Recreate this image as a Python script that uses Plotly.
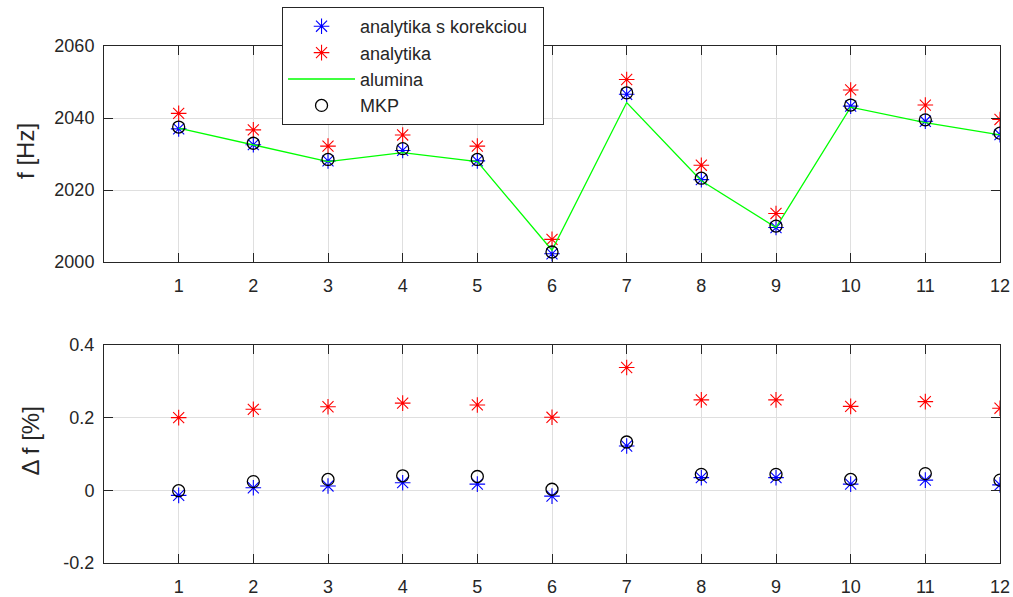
import plotly.graph_objects as go

# sample index
idx = list(range(1, 13))

# resonance frequency [Hz]
f_alumina = [2037.2, 2032.5, 2027.9, 2030.4, 2027.9, 2003.3, 2044.3, 2022.6, 2009.6, 2043.0, 2038.7, 2035.3]
f_analytika = [2041.3, 2036.7, 2032.2, 2035.3, 2032.2, 2006.3, 2050.7, 2026.9, 2013.5, 2047.8, 2043.6, 2039.6]
f_korekcia = [2037.0, 2032.6, 2028.1, 2031.0, 2028.1, 2002.3, 2046.6, 2022.9, 2009.6, 2043.3, 2039.1, 2035.4]
f_mkp = [2037.5, 2033.0, 2028.5, 2031.5, 2028.5, 2002.8, 2047.0, 2023.3, 2010.0, 2043.6, 2039.5, 2035.8]

# relative deviation [%]
d_analytika = [0.200, 0.223, 0.230, 0.240, 0.235, 0.201, 0.338, 0.249, 0.249, 0.231, 0.244, 0.226]
d_korekcia = [-0.014, 0.007, 0.012, 0.021, 0.017, -0.016, 0.122, 0.035, 0.035, 0.017, 0.028, 0.015]
d_mkp = [-0.001, 0.024, 0.030, 0.040, 0.038, 0.003, 0.133, 0.044, 0.044, 0.030, 0.046, 0.028]

top_ticks = [2000, 2020, 2040, 2060]
bot_ticks = [-0.2, 0, 0.2, 0.4]
bot_ticktext = ["-0.2", "0", "0.2", "0.4"]

FONT = "Liberation Sans, Arial, sans-serif"
AX = "#262626"
GRID = "#dfdfdf"
NB = "\u00a0"

star = lambda c: dict(symbol="asterisk-open", size=13, color=c, line=dict(color=c, width=1.1))
ring = dict(symbol="circle-open", size=12, color="black", line=dict(color="black", width=1.3))

fig = go.Figure()

fig.add_trace(go.Scatter(x=idx, y=f_korekcia, mode="markers", marker=star("#0000ff"),
                         name="analytika s korekciou" + NB * 2, legendgroup="a", xaxis="x", yaxis="y"))
fig.add_trace(go.Scatter(x=idx, y=f_analytika, mode="markers", marker=star("#ff0000"),
                         name="analytika", legendgroup="b", xaxis="x", yaxis="y"))
fig.add_trace(go.Scatter(x=idx, y=f_alumina, mode="lines", line=dict(color="#00ff00", width=1.3),
                         name="alumina", legendgroup="c", xaxis="x", yaxis="y"))
fig.add_trace(go.Scatter(x=idx, y=f_mkp, mode="markers", marker=ring,
                         name="MKP", legendgroup="d", xaxis="x", yaxis="y"))

fig.add_trace(go.Scatter(x=idx, y=d_korekcia, mode="markers", marker=star("#0000ff"),
                         showlegend=False, xaxis="x2", yaxis="y2"))
fig.add_trace(go.Scatter(x=idx, y=d_analytika, mode="markers", marker=star("#ff0000"),
                         showlegend=False, xaxis="x2", yaxis="y2"))
fig.add_trace(go.Scatter(x=idx, y=d_mkp, mode="markers", marker=ring,
                         showlegend=False, xaxis="x2", yaxis="y2"))

common = dict(showline=True, linecolor=AX, linewidth=1, mirror="allticks", ticks="inside",
              ticklen=9, tickcolor=AX, tickwidth=1, showgrid=True, gridcolor=GRID, gridwidth=1,
              zeroline=False, tickfont=dict(family=FONT, size=18, color=AX))

xcommon = dict(common, range=[0, 12], tickvals=idx, ticklabelstandoff=7)

fig.update_layout(
    width=1013, height=597,
    margin=dict(l=104, r=13, t=46, b=34, autoexpand=False),
    paper_bgcolor="white", plot_bgcolor="white",
    font=dict(family=FONT, color=AX),
    xaxis=dict(xcommon, domain=[0, 1], anchor="y"),
    yaxis=dict(common, domain=[0.582, 1], range=[2000, 2060], tickvals=top_ticks,
               ticklabelstandoff=5),
    xaxis2=dict(xcommon, domain=[0, 1], anchor="y2"),
    yaxis2=dict(common, domain=[0, 0.4217], range=[-0.2, 0.4], tickvals=bot_ticks,
                ticktext=bot_ticktext, ticklabelstandoff=5),
    legend=dict(x=0.1987, y=1.0754, xanchor="left", yanchor="top",
                bgcolor="white", bordercolor=AX, borderwidth=1,
                font=dict(family=FONT, size=18, color=AX),
                itemwidth=67, traceorder="grouped", tracegroupgap=0),
)

# vertical axis labels
for text, xs, yp in [("f [Hz]", -78, 0.797), ("Δ f [%]", -73, 0.235)]:
    fig.add_annotation(text=text, textangle=-90, xref="paper", yref="paper", x=0, y=yp,
                       xshift=xs, xanchor="center", yanchor="middle", showarrow=False,
                       font=dict(family=FONT, size=24, color=AX))

fig.write_html("out.html")
